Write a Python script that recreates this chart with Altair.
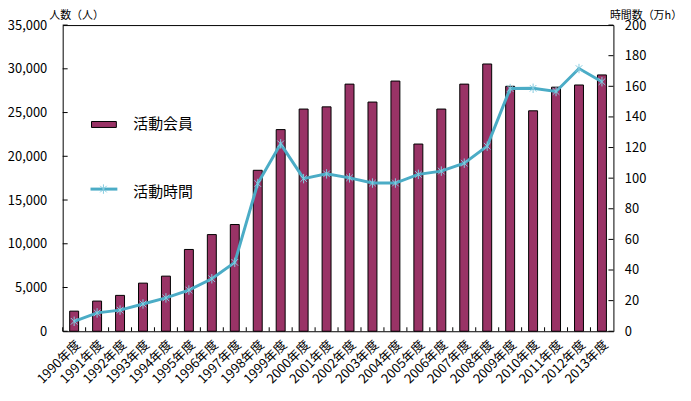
import altair as alt
import pandas as pd

years = ["1990年度", "1991年度", "1992年度", "1993年度", "1994年度", "1995年度",
         "1996年度", "1997年度", "1998年度", "1999年度", "2000年度", "2001年度",
         "2002年度", "2003年度", "2004年度", "2005年度", "2006年度", "2007年度",
         "2008年度", "2009年度", "2010年度", "2011年度", "2012年度", "2013年度"]
members = [2300, 3450, 4100, 5500, 6300, 9350, 11050, 12200, 18400, 23050,
           25400, 25650, 28250, 26200, 28600, 21400, 25400, 28250, 30550, 28000,
           25200, 27900, 28150, 29300]
hours = [6.5, 12, 13.8, 17.8, 21.8, 26.9, 34.3, 45, 96.5, 122.4,
         99.7, 102.8, 100.2, 96.8, 96.8, 102.5, 104.6, 109.8, 120.9, 158.5,
         158.7, 156.6, 171.6, 163]
left_ticks = [0, 5000, 10000, 15000, 20000, 25000, 30000, 35000]
right_ticks = [0, 20, 40, 60, 80, 100, 120, 140, 160, 180, 200]
legend_labels = ["活動会員", "活動時間"]
left_title = "人数（人）"
right_title = "時間数（万h）"

FONT = "Noto Sans CJK JP"
W, H = 554, 308
BAR_COLOR = "#993366"
LINE_COLOR = "#4BACC6"
MARK_COLOR = "#86CCE0"
STAR = "M-0.7,-0.7L0.7,0.7M-0.7,0.7L0.7,-0.7M0,-1L0,1"

df = pd.DataFrame({"year": years, "members": members, "hours": hours})
lt = pd.DataFrame({"members": left_ticks})
rt = pd.DataFrame({"hours": right_ticks})

xscale = alt.Scale(paddingInner=0, paddingOuter=0)
xaxis = alt.Axis(title=None, labelAngle=-45, labelFontSize=13, ticks=False,
                 domain=False, labelPadding=7, labelAlign="right",
                 labelBaseline="top")
x = alt.X("year:N", sort=years, scale=xscale, axis=xaxis)

lscale = alt.Scale(domain=[0, 35000], nice=False)
rscale = alt.Scale(domain=[0, 200], nice=False)

laxis = alt.Axis(title=left_title, values=left_ticks, ticks=False,
                 labelExpr="format(datum.value, ',')",
                 domain=False, grid=False, labelPadding=16, labelFontSize=13,
                 titleAngle=0, titleX=-14, titleY=-10, titleAlign="left",
                 titleBaseline="middle", titleFontSize=11, titleFontWeight="normal")
raxis = alt.Axis(title=right_title, orient="right", values=right_ticks, ticks=False,
                 domain=False, grid=False, labelPadding=11, labelFontSize=13,
                 titleAngle=0, titleX=-4, titleY=-10, titleAlign="left",
                 titleBaseline="middle", titleFontSize=11, titleFontWeight="normal")

bars = alt.Chart(df).mark_bar(width=alt.RelativeBandSize(0.39), color=BAR_COLOR,
                              stroke="black", strokeWidth=1).encode(
    x=x, y=alt.Y("members:Q", scale=lscale, axis=laxis))
lticks = alt.Chart(lt).mark_rule(color="black", strokeWidth=1).encode(
    y=alt.Y("members:Q", scale=lscale, axis=laxis), x=alt.value(0), x2=alt.value(5))
xticks = alt.Chart(df).mark_rule(color="black", strokeWidth=1).encode(
    x=alt.X("year:N", sort=years, scale=xscale, axis=xaxis, bandPosition=0),
    y=alt.value(H - 4), y2=alt.value(H))
left_group = alt.layer(bars, lticks, xticks)

line = alt.Chart(df).mark_line(color=LINE_COLOR, strokeWidth=3).encode(
    x=x, y=alt.Y("hours:Q", scale=rscale, axis=raxis))
pts = alt.Chart(df).mark_point(shape=STAR, filled=False, color=MARK_COLOR,
                               strokeWidth=1, size=90, opacity=1).encode(
    x=x, y=alt.Y("hours:Q", scale=rscale, axis=raxis))
rticks = alt.Chart(rt).mark_rule(color="black", strokeWidth=1).encode(
    y=alt.Y("hours:Q", scale=rscale, axis=raxis), x=alt.value(W - 5), x2=alt.value(W))
right_group = alt.layer(line, pts, rticks)

one = pd.DataFrame({"a": [0]})
leg_rect = alt.Chart(one).mark_rect(color=BAR_COLOR, stroke="black", strokeWidth=1).encode(
    x=alt.value(29), x2=alt.value(54), y=alt.value(97), y2=alt.value(103))
leg_line = alt.Chart(one).mark_rule(color=LINE_COLOR, strokeWidth=3).encode(
    x=alt.value(28), x2=alt.value(55), y=alt.value(165))
leg_star = alt.Chart(one).mark_point(shape=STAR, filled=False, color=MARK_COLOR,
                                     strokeWidth=1, size=90, opacity=1).encode(
    x=alt.value(41), y=alt.value(165))
leg_text1 = alt.Chart(pd.DataFrame({"label": [legend_labels[0]]})).mark_text(
    align="left", baseline="middle", fontSize=15, font=FONT, color="black").encode(
    x=alt.value(71), y=alt.value(100), text="label:N")
leg_text2 = alt.Chart(pd.DataFrame({"label": [legend_labels[1]]})).mark_text(
    align="left", baseline="middle", fontSize=15, font=FONT, color="black").encode(
    x=alt.value(71), y=alt.value(168), text="label:N")

chart = alt.layer(left_group, right_group, leg_rect, leg_line, leg_star,
                  leg_text1, leg_text2).resolve_scale(y="independent").properties(
    width=W, height=H,
    autosize=alt.AutoSizeParams(type="none"),
    padding={"left": 55, "top": 16, "right": 70, "bottom": 70},
).configure_view(stroke="black", strokeWidth=1).configure_axis(
    labelFont=FONT, titleFont=FONT, labelColor="black", titleColor="black")

chart.save("out.html", embed_options={"renderer": "svg", "actions": False})
